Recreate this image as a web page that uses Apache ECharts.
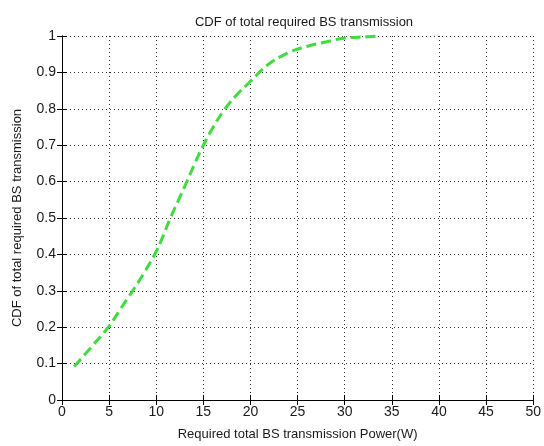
<!DOCTYPE html>
<html>
<head>
<meta charset="utf-8">
<script src="https://cdn.jsdelivr.net/npm/echarts@6/dist/echarts.min.js"></script>
<style>
  html, body { margin: 0; padding: 0; background: #fff; }
  #chart { width: 544px; height: 446px; }
</style>
</head>
<body>
<div id="chart"></div>
<script>
// Required total BS transmission power (W) and its empirical CDF
const powerW = [1.3, 3.2, 5.0, 6.2, 7.5, 8.7, 9.9, 10.7, 11.5, 12.4, 13.25, 14.1, 15.0, 16.1, 17.3, 18.6, 19.9, 21.1, 22.2, 23.6, 24.3, 26.05, 28.2, 29.9, 32.4, 33.7];
const cdfValues = [0.092, 0.148, 0.203, 0.25, 0.300, 0.349, 0.403, 0.449, 0.50, 0.551, 0.60, 0.65, 0.70, 0.752, 0.80, 0.84, 0.873, 0.904, 0.928, 0.949, 0.958, 0.972, 0.985, 0.994, 0.998, 1.0];

const titleText = 'CDF of total required BS transmission';
const xAxisName = 'Required total BS transmission Power(W)';
const yAxisName = 'CDF of total required BS transmission';

const FONT = '"Liberation Sans", Arial, sans-serif';
const TEXT_COLOR = '#1a1a1a';

const seriesData = powerW.map((x, i) => [x, cdfValues[i]]);

const gridLine = { show: true, lineStyle: { color: '#333', width: 1, type: [1, 3] } };
const axisLineStyle = { show: true, lineStyle: { color: '#000', width: 1 } };
const innerTick = { show: true, inside: true, length: 5, lineStyle: { color: '#000' } };

const chart = echarts.init(document.getElementById('chart'), null, { renderer: 'canvas' });

chart.setOption({
  backgroundColor: '#fff',
  animation: false,
  title: {
    text: titleText,
    left: 299,
    textAlign: 'center',
    top: 11,
    textStyle: { fontFamily: FONT, fontSize: 13, fontWeight: 'normal', color: TEXT_COLOR }
  },
  grid: { left: 62, right: 8, top: 36, bottom: 37 },
  xAxis: [
    {
      type: 'value', min: 0, max: 50, interval: 5, position: 'bottom',
      name: xAxisName, nameLocation: 'middle', nameGap: 28,
      nameTextStyle: { fontFamily: FONT, fontSize: 13, color: TEXT_COLOR },
      axisLine: axisLineStyle, axisTick: innerTick,
      axisLabel: { fontFamily: FONT, fontSize: 14, color: TEXT_COLOR, margin: 5 },
      splitLine: gridLine
    },
    {
      type: 'value', min: 0, max: 50, interval: 5, position: 'top',
      axisLine: axisLineStyle, axisTick: innerTick,
      axisLabel: { show: false }, splitLine: { show: false }
    }
  ],
  yAxis: [
    {
      type: 'value', min: 0, max: 1, interval: 0.1, position: 'left',
      name: yAxisName, nameLocation: 'middle', nameGap: 38,
      nameTextStyle: { fontFamily: FONT, fontSize: 13, color: TEXT_COLOR },
      axisLine: axisLineStyle, axisTick: innerTick,
      axisLabel: { fontFamily: FONT, fontSize: 14, color: TEXT_COLOR, margin: 6 },
      splitLine: gridLine
    },
    {
      type: 'value', min: 0, max: 1, interval: 0.1, position: 'right',
      axisLine: axisLineStyle, axisTick: innerTick,
      axisLabel: { show: false }, splitLine: { show: false }
    }
  ],
  series: [
    {
      type: 'line',
      data: seriesData,
      xAxisIndex: 0, yAxisIndex: 0,
      smooth: 0.4,
      showSymbol: false,
      lineStyle: { color: '#3fdc3f', width: 3, type: [10, 5] },
      z: 3
    }
  ]
});
</script>
</body>
</html>
